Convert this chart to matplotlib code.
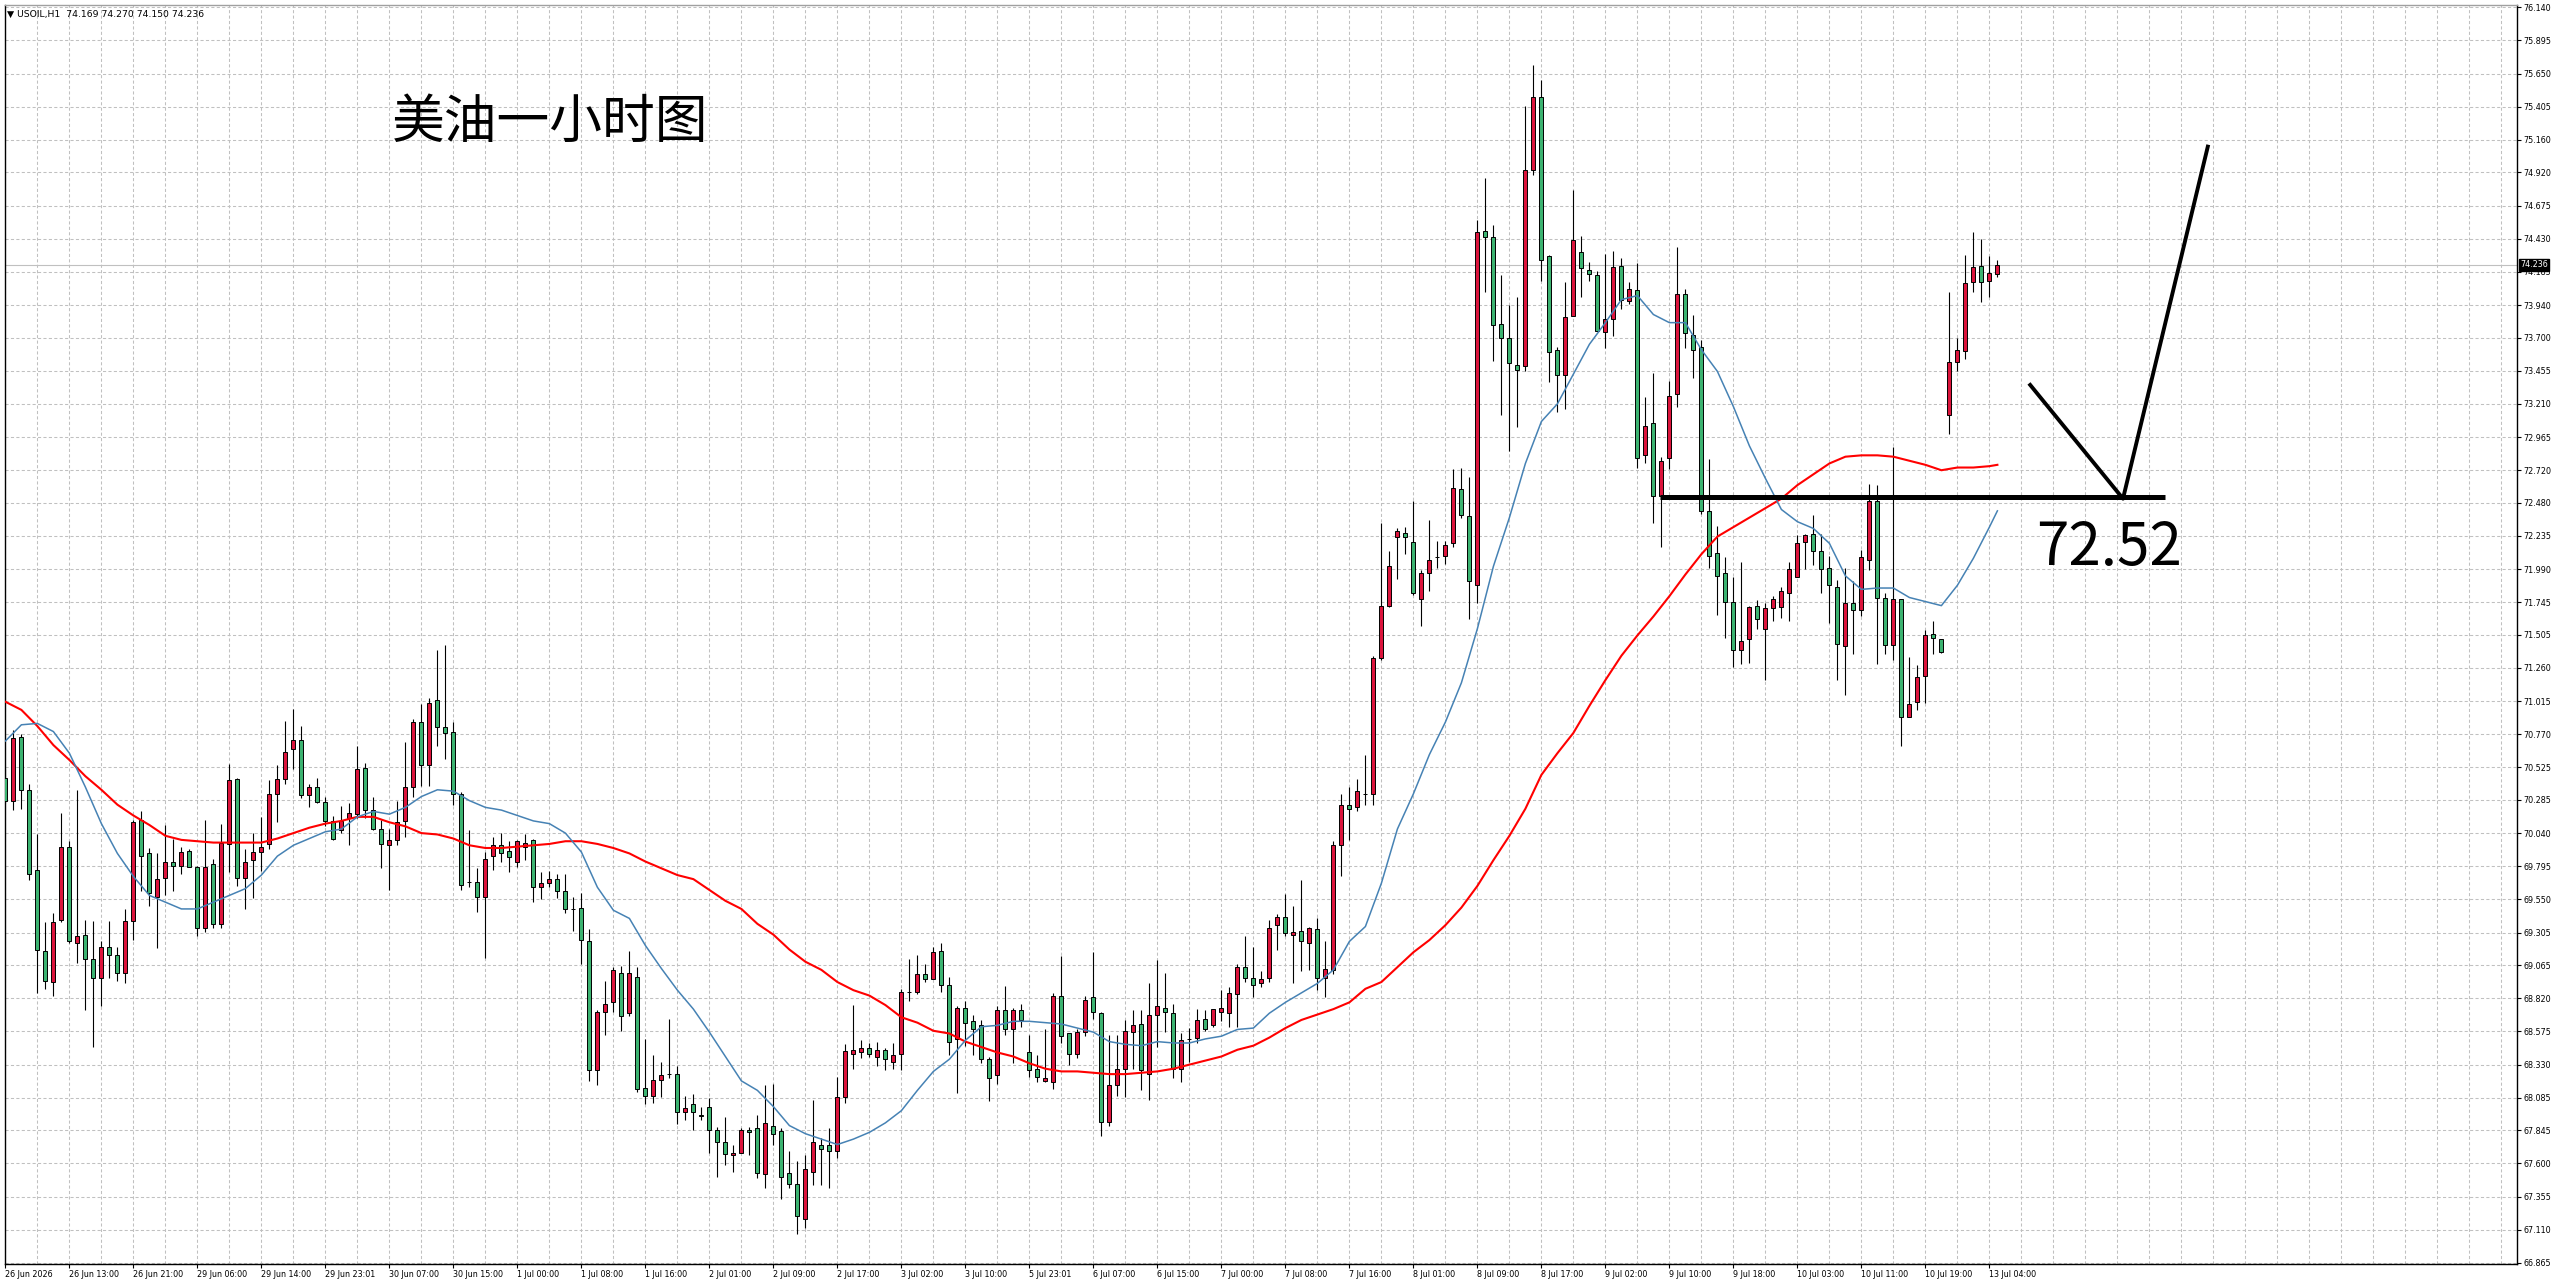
"""USOIL H1 candlestick chart with two moving averages and a hand-drawn 72.52 level."""

import numpy as np
import matplotlib
matplotlib.use("Agg")
import matplotlib.pyplot as plt
import matplotlib.transforms as mtransforms

# ── Data ─────────────────────────────────────────────────────────────────────
# 250 hourly bars (bar 0 = 26 Jun 2026)

OPEN = [
    70.45, 70.28, 70.75, 70.36, 69.77, 69.17, 68.94, 69.40, 69.94, 69.23,
    69.29, 69.11, 68.97, 69.20, 69.14, 69.01, 69.39, 70.14, 69.89, 69.57,
    69.71, 69.83, 69.80, 69.91, 69.79, 69.34, 69.81, 69.37, 69.96, 70.44,
    69.71, 69.84, 69.90, 69.96, 70.33, 70.44, 70.66, 70.73, 70.32, 70.38,
    70.27, 70.13, 70.06, 70.15, 70.18, 70.52, 70.21, 70.07, 69.95, 69.99,
    70.13, 70.38, 70.86, 70.54, 71.02, 70.82, 70.79, 70.33, 69.68, 69.68,
    69.57, 69.87, 69.95, 69.91, 69.83, 69.94, 69.99, 69.64, 69.67, 69.70,
    69.61, 69.48, 69.49, 69.24, 68.29, 68.72, 68.79, 69.01, 68.71, 68.98,
    68.16, 68.10, 68.22, 68.26, 68.26, 67.98, 68.04, 67.96, 68.02, 67.85,
    67.76, 67.66, 67.68, 67.85, 67.86, 67.52, 67.88, 67.84, 67.53, 67.45,
    67.19, 67.54, 67.74, 67.74, 67.69, 68.09, 68.41, 68.42, 68.45, 68.39,
    68.44, 68.35, 68.41, 68.87, 68.87, 69.00, 68.96, 69.17, 68.92, 68.52,
    68.75, 68.65, 68.62, 68.37, 68.25, 68.73, 68.59, 68.73, 68.42, 68.30,
    68.21, 68.20, 68.84, 68.56, 68.41, 68.57, 68.83, 68.71, 67.91, 68.18,
    68.30, 68.57, 68.63, 68.26, 68.70, 68.75, 68.71, 68.30, 68.52, 68.53,
    68.67, 68.62, 68.72, 68.71, 68.85, 69.05, 68.97, 68.93, 68.97, 69.36,
    69.42, 69.29, 69.32, 69.23, 69.33, 68.97, 69.03, 69.95, 70.25, 70.23,
    70.33, 70.33, 71.33, 71.72, 72.23, 72.26, 72.19, 71.77, 71.96, 72.08,
    72.09, 72.18, 72.58, 72.38, 71.87, 74.49, 74.44, 73.80, 73.70, 73.50,
    73.49, 74.94, 75.48, 74.30, 73.61, 73.42, 73.86, 74.33, 74.20, 74.16,
    73.74, 73.84, 74.23, 73.97, 74.05, 72.83, 73.07, 72.53, 72.81, 73.28,
    74.02, 73.72, 73.63, 72.42, 72.11, 71.96, 71.75, 71.39, 71.47, 71.72,
    71.55, 71.70, 71.71, 71.81, 71.93, 72.19, 72.25, 72.12, 72.00, 71.86,
    71.42, 71.74, 71.69, 72.06, 72.49, 71.78, 71.43, 71.77, 70.90, 71.01,
    71.20, 71.51, 71.47, 73.13, 73.52, 73.60, 74.11, 74.23, 74.12, 74.169,
]

HIGH = [
    70.51, 70.80, 70.77, 70.40, 70.03, 69.38, 69.45, 70.19, 69.98, 70.36,
    69.40, 69.39, 69.24, 69.39, 69.20, 69.48, 70.14, 70.20, 69.93, 69.89,
    70.10, 70.00, 69.94, 69.92, 69.80, 70.14, 69.85, 70.11, 70.55, 70.45,
    69.92, 70.04, 70.16, 70.43, 70.54, 70.87, 70.96, 70.83, 70.40, 70.45,
    70.31, 70.17, 70.24, 70.26, 70.68, 70.56, 70.31, 70.14, 70.07, 70.28,
    70.71, 70.88, 70.99, 71.04, 71.39, 71.43, 70.86, 70.34, 70.06, 69.78,
    69.90, 70.01, 70.04, 69.98, 69.99, 70.03, 70.00, 69.75, 69.76, 69.74,
    69.74, 69.57, 69.60, 69.33, 68.73, 68.95, 69.05, 69.06, 69.17, 69.05,
    68.52, 68.40, 68.35, 68.67, 68.32, 68.10, 68.11, 68.02, 68.08, 67.87,
    67.94, 67.74, 67.86, 67.87, 67.96, 68.18, 68.19, 67.86, 67.69, 67.62,
    67.66, 68.07, 67.79, 67.86, 68.24, 68.48, 68.77, 68.51, 68.49, 68.50,
    68.45, 68.49, 68.89, 69.11, 69.14, 69.07, 69.20, 69.23, 68.98, 68.76,
    68.80, 68.70, 68.66, 68.39, 68.76, 68.91, 68.75, 68.78, 68.55, 68.40,
    68.59, 68.86, 69.13, 68.56, 68.59, 68.84, 69.16, 68.72, 68.55, 68.55,
    68.66, 68.73, 68.73, 68.93, 69.10, 69.01, 68.78, 68.56, 68.60, 68.74,
    68.73, 68.74, 68.88, 68.90, 69.07, 69.28, 69.20, 69.02, 69.40, 69.44,
    69.59, 69.50, 69.69, 69.35, 69.41, 69.24, 69.98, 70.33, 70.38, 70.44,
    70.62, 71.35, 72.33, 72.12, 72.29, 72.30, 72.49, 71.98, 72.35, 72.20,
    72.20, 72.73, 72.74, 72.67, 74.57, 74.88, 74.53, 74.16, 73.94, 74.00,
    75.41, 75.71, 75.60, 74.31, 73.63, 74.11, 74.79, 74.45, 74.26, 74.19,
    74.32, 74.34, 74.29, 74.11, 74.25, 73.26, 73.44, 72.82, 73.38, 74.37,
    74.06, 73.87, 73.68, 72.80, 72.31, 72.08, 71.93, 72.04, 71.72, 71.76,
    71.74, 71.79, 71.86, 72.04, 72.24, 72.25, 72.39, 72.25, 72.09, 71.91,
    72.00, 71.90, 72.13, 72.62, 72.61, 71.81, 72.89, 71.77, 71.34, 71.28,
    71.54, 71.61, 71.47, 74.04, 73.70, 74.31, 74.48, 74.43, 74.30, 74.270,
]

LOW = [
    70.26, 70.21, 70.22, 69.69, 68.86, 68.89, 68.84, 69.38, 69.23, 69.08,
    68.73, 68.46, 68.76, 68.97, 68.95, 68.93, 69.25, 69.61, 69.50, 69.19,
    69.58, 69.61, 69.74, 69.79, 69.28, 69.31, 69.34, 69.34, 69.75, 69.65,
    69.48, 69.56, 69.76, 69.92, 70.12, 70.40, 70.51, 70.30, 70.23, 70.26,
    70.09, 69.99, 70.04, 69.95, 70.15, 70.15, 70.06, 69.78, 69.62, 69.95,
    70.01, 70.31, 70.39, 70.39, 70.68, 70.59, 70.25, 69.62, 69.64, 69.46,
    69.12, 69.77, 69.83, 69.75, 69.79, 69.84, 69.53, 69.55, 69.64, 69.56,
    69.45, 69.32, 69.07, 68.21, 68.18, 68.55, 68.72, 68.58, 68.69, 68.13,
    68.04, 68.05, 68.09, 68.23, 67.89, 67.92, 67.85, 67.92, 67.68, 67.50,
    67.59, 67.54, 67.68, 67.66, 67.49, 67.42, 67.74, 67.34, 67.42, 67.08,
    67.12, 67.44, 67.44, 67.42, 67.64, 68.05, 68.30, 68.38, 68.39, 68.32,
    68.29, 68.30, 68.29, 68.80, 68.85, 68.94, 68.96, 68.87, 68.40, 68.12,
    68.47, 68.40, 68.34, 68.06, 68.19, 68.55, 68.34, 68.61, 68.24, 68.20,
    68.20, 68.15, 68.49, 68.33, 68.38, 68.54, 68.67, 67.80, 67.88, 68.10,
    68.09, 68.30, 68.14, 68.07, 68.46, 68.57, 68.23, 68.20, 68.35, 68.49,
    68.58, 68.61, 68.65, 68.61, 68.61, 68.94, 68.83, 68.90, 68.94, 69.18,
    69.28, 68.93, 69.02, 69.03, 68.88, 68.83, 69.00, 69.72, 69.99, 70.20,
    70.25, 70.25, 71.32, 71.71, 71.92, 72.10, 71.80, 71.57, 71.83, 72.00,
    72.03, 72.15, 72.37, 71.62, 71.74, 74.04, 73.53, 73.13, 72.86, 73.04,
    73.45, 74.90, 74.12, 73.37, 73.15, 73.17, 73.86, 74.00, 74.12, 73.75,
    73.62, 73.71, 73.91, 73.95, 72.74, 72.77, 72.33, 72.15, 72.73, 73.19,
    73.62, 73.40, 72.40, 72.00, 71.65, 71.48, 71.27, 71.29, 71.30, 71.55,
    71.17, 71.61, 71.63, 71.61, 71.93, 71.99, 72.02, 71.81, 71.59, 71.17,
    71.06, 71.36, 71.64, 71.98, 71.29, 71.36, 71.32, 70.68, 70.90, 70.95,
    71.00, 71.36, 71.37, 72.99, 73.45, 73.54, 74.04, 73.96, 74.00, 74.150,
]

CLOSE = [
    70.28, 70.74, 70.36, 69.74, 69.18, 68.95, 69.38, 69.94, 69.24, 69.28,
    69.11, 68.97, 69.20, 69.14, 69.01, 69.39, 70.12, 69.87, 69.60, 69.70,
    69.83, 69.80, 69.90, 69.79, 69.34, 69.79, 69.37, 69.97, 70.43, 69.71,
    69.83, 69.90, 69.94, 70.33, 70.44, 70.64, 70.73, 70.32, 70.38, 70.27,
    70.13, 70.00, 70.13, 70.19, 70.51, 70.21, 70.07, 69.96, 69.99, 70.12,
    70.38, 70.86, 70.54, 71.00, 70.82, 70.78, 70.33, 69.66, 69.68, 69.57,
    69.85, 69.95, 69.89, 69.86, 69.98, 69.97, 69.64, 69.67, 69.70, 69.61,
    69.48, 69.48, 69.25, 68.29, 68.72, 68.78, 69.03, 68.69, 69.01, 68.15,
    68.10, 68.22, 68.25, 68.26, 67.98, 68.01, 67.98, 67.95, 67.85, 67.76,
    67.67, 67.68, 67.85, 67.83, 67.53, 67.90, 67.82, 67.50, 67.45, 67.21,
    67.56, 67.76, 67.71, 67.69, 68.09, 68.43, 68.44, 68.45, 68.41, 68.44,
    68.37, 68.40, 68.87, 68.87, 69.00, 68.96, 69.16, 68.92, 68.50, 68.75,
    68.64, 68.59, 68.37, 68.23, 68.73, 68.59, 68.73, 68.66, 68.29, 68.24,
    68.23, 68.84, 68.54, 68.41, 68.57, 68.81, 68.72, 67.91, 68.18, 68.30,
    68.58, 68.62, 68.29, 68.70, 68.76, 68.72, 68.30, 68.51, 68.52, 68.66,
    68.59, 68.74, 68.75, 68.86, 69.05, 68.97, 68.92, 68.96, 69.34, 69.42,
    69.30, 69.31, 69.24, 69.34, 68.97, 69.04, 69.95, 70.25, 70.22, 70.35,
    70.33, 71.33, 71.72, 72.01, 72.27, 72.23, 71.81, 71.96, 72.06, 72.08,
    72.17, 72.59, 72.39, 71.90, 74.48, 74.44, 73.79, 73.70, 73.51, 73.46,
    74.94, 75.48, 74.27, 73.59, 73.42, 73.85, 74.42, 74.21, 74.17, 73.75,
    73.84, 74.22, 73.98, 74.06, 72.81, 73.05, 72.53, 72.79, 73.27, 74.02,
    73.73, 73.61, 72.42, 72.09, 71.94, 71.75, 71.39, 71.46, 71.71, 71.62,
    71.70, 71.77, 71.83, 71.99, 72.18, 72.24, 72.12, 71.99, 71.87, 71.44,
    71.74, 71.69, 72.08, 72.49, 71.78, 71.43, 71.77, 70.90, 70.99, 71.19,
    71.50, 71.48, 71.38, 73.52, 73.61, 74.10, 74.22, 74.11, 74.18, 74.236,
]

# moving averages, sampled every second bar (plus the last bar)
MA_BARS = list(range(0, 250, 2)) + [249]

MA_FAST = [
    70.72, 70.84, 70.85, 70.79, 70.63, 70.38, 70.11, 69.89, 69.72, 69.58,
    69.53, 69.48, 69.48, 69.53, 69.58, 69.63, 69.73, 69.87, 69.95, 70.00,
    70.05, 70.07, 70.16, 70.20, 70.18, 70.23, 70.31, 70.36, 70.35, 70.28,
    70.23, 70.21, 70.17, 70.13, 70.11, 70.04, 69.90, 69.64, 69.47, 69.41,
    69.21, 69.04, 68.88, 68.74, 68.57, 68.39, 68.21, 68.14, 68.02, 67.88,
    67.82, 67.78, 67.74, 67.78, 67.83, 67.90, 67.99, 68.14, 68.28, 68.37,
    68.51, 68.61, 68.62, 68.65, 68.65, 68.64, 68.63, 68.60, 68.57, 68.50,
    68.48, 68.47, 68.50, 68.49, 68.49, 68.52, 68.54, 68.59, 68.60, 68.71,
    68.79, 68.86, 68.93, 69.03, 69.24, 69.35, 69.67, 70.07, 70.33, 70.62,
    70.86, 71.15, 71.55, 72.01, 72.37, 72.77, 73.08, 73.21, 73.43, 73.65,
    73.81, 73.98, 74.01, 73.87, 73.81, 73.81, 73.61, 73.45, 73.19, 72.90,
    72.66, 72.43, 72.34, 72.29, 72.18, 71.94, 71.84, 71.85, 71.85, 71.78,
    71.75, 71.72, 71.87, 72.07, 72.30, 72.42,
]

MA_SLOW = [
    71.01, 70.95, 70.83, 70.69, 70.58, 70.46, 70.36, 70.25, 70.17, 70.10,
    70.02, 69.99, 69.98, 69.97, 69.97, 69.97, 69.97, 70.00, 70.04, 70.08,
    70.11, 70.13, 70.16, 70.16, 70.12, 70.09, 70.04, 70.03, 70.00, 69.95,
    69.93, 69.93, 69.94, 69.95, 69.96, 69.98, 69.98, 69.96, 69.93, 69.89,
    69.83, 69.78, 69.73, 69.70, 69.62, 69.54, 69.48, 69.37, 69.29, 69.18,
    69.09, 69.03, 68.94, 68.88, 68.84, 68.77, 68.68, 68.64, 68.58, 68.56,
    68.50, 68.46, 68.42, 68.39, 68.34, 68.30, 68.28, 68.28, 68.27, 68.26,
    68.26, 68.27, 68.28, 68.30, 68.33, 68.36, 68.39, 68.44, 68.47, 68.53,
    68.60, 68.66, 68.70, 68.74, 68.79, 68.89, 68.94, 69.05, 69.16, 69.25,
    69.36, 69.49, 69.65, 69.84, 70.02, 70.22, 70.47, 70.63, 70.78, 70.98,
    71.17, 71.35, 71.50, 71.64, 71.79, 71.95, 72.10, 72.23, 72.30, 72.37,
    72.44, 72.51, 72.61, 72.69, 72.77, 72.82, 72.83, 72.83, 72.82, 72.79,
    72.76, 72.72, 72.74, 72.74, 72.75, 72.76,
]

TIME_LABELS = [
    "26 Jun 2026", "26 Jun 13:00", "26 Jun 21:00", "29 Jun 06:00",
    "29 Jun 14:00", "29 Jun 23:01", "30 Jun 07:00", "30 Jun 15:00",
    "1 Jul 00:00", "1 Jul 08:00", "1 Jul 16:00", "2 Jul 01:00",
    "2 Jul 09:00", "2 Jul 17:00", "3 Jul 02:00", "3 Jul 10:00",
    "5 Jul 23:01", "6 Jul 07:00", "6 Jul 15:00", "7 Jul 00:00",
    "7 Jul 08:00", "7 Jul 16:00", "8 Jul 01:00", "8 Jul 09:00",
    "8 Jul 17:00", "9 Jul 02:00", "9 Jul 10:00", "9 Jul 18:00",
    "10 Jul 03:00", "10 Jul 11:00", "10 Jul 19:00", "13 Jul 04:00",
]

PRICE_LABELS = [
    "76.140", "75.895", "75.650", "75.405", "75.160", "74.920", "74.675",
    "74.430", "74.185", "73.940", "73.700", "73.455", "73.210", "72.965",
    "72.720", "72.480", "72.235", "71.990", "71.745", "71.505", "71.260",
    "71.015", "70.770", "70.525", "70.285", "70.040", "69.795", "69.550",
    "69.305", "69.065", "68.820", "68.575", "68.330", "68.085", "67.845",
    "67.600", "67.355", "67.110", "66.865",
]

# hand-drawn annotations (bar index, price)
LEVEL = 72.52
LEVEL_BARS = [206.8, 269.9]
PATH_BARS = [253.1, 264.7, 275.3]
PATH_PRICES = [73.35, 72.51, 75.11]

SYMBOL = "USOIL,H1"
TITLE = "美油一小时图"

UP = "#DC143C"
DOWN = "#3CB371"
BLUE = "#4682B4"
RED = "#FF0000"
GRID = "#C0C0C0"

W, H = 2560, 1285


def main():
    plt.rcParams["font.family"] = ["DejaVu Sans"]
    fig = plt.figure(figsize=(W / 100, H / 100), dpi=100)
    left, right, top, bottom = 4.5, 2517, 5, 1264
    ax = fig.add_axes([left / W, 1 - bottom / H, (right - left) / W, (bottom - top) / H])

    x = np.arange(len(OPEN))
    o, h, l, c = map(np.array, (OPEN, HIGH, LOW, CLOSE))
    colors = np.where(c >= o, UP, DOWN)

    ax.vlines(x, l, h, color="black", lw=0.8, zorder=2.8)
    ax.bar(x, np.abs(c - o), width=0.5, bottom=np.minimum(o, c), color=colors,
           edgecolor="black", linewidth=0.7, zorder=3)

    ax.plot(MA_BARS, MA_SLOW, color=RED, lw=1.5, zorder=4)
    ax.plot(MA_BARS, MA_FAST, color=BLUE, lw=1.1, zorder=4)

    # current price line + label
    last = CLOSE[-1]
    ax.axhline(last, color=GRID, lw=0.8, zorder=1.5)
    trans = mtransforms.blended_transform_factory(ax.transAxes, ax.transData)
    ax.text(1.0014, last, f"{last:.3f}", transform=trans, ha="left", va="center",
            fontsize=5.8, color="white", clip_on=False, zorder=10,
            bbox=dict(boxstyle="square,pad=0.15", fc="black", ec="black"))

    # annotations
    ax.hlines(LEVEL, LEVEL_BARS[0], LEVEL_BARS[1], color="black", lw=3.6, zorder=6)
    ax.plot(PATH_BARS, PATH_PRICES, color="black", lw=2.8, zorder=6)
    ax.text(253.8, 72.14, f"{LEVEL:.2f}", fontsize=42, va="center", ha="left",
            family=["Noto Sans CJK SC", "DejaVu Sans"], zorder=6)

    # axes / grid
    ax.set_xlim(-(5.4 - left) / 8, (right - 5.4) / 8)
    ax.set_ylim(66.865 - 1 / 135.4, 66.865 + 1258 / 135.4)

    majors = list(range(0, 8 * len(TIME_LABELS), 8))
    ax.set_xticks(majors)
    ax.set_xticklabels(TIME_LABELS)
    ax.set_xticks([v for v in range(4, 316, 4) if v not in majors], minor=True)
    for lab in ax.get_xticklabels():
        lab.set_ha("left")

    ax.yaxis.tick_right()
    ax.set_yticks([float(s) for s in PRICE_LABELS])
    ax.set_yticklabels(PRICE_LABELS)

    ax.tick_params(axis="y", length=3, width=0.8, pad=1.4, labelsize=5.8)
    ax.tick_params(axis="x", which="major", length=3, width=0.8, pad=1.5, labelsize=5.8)
    ax.tick_params(axis="x", which="minor", length=0)

    dash = (0, (3, 2.2))
    ax.grid(True, axis="y", which="major", color=GRID, ls=dash, lw=0.75, zorder=0)
    ax.grid(True, axis="x", which="both", color=GRID, ls=dash, lw=0.75, zorder=0)
    ax.set_axisbelow(True)

    for side in ("left", "right", "bottom"):
        ax.spines[side].set_color("black")
        ax.spines[side].set_linewidth(1.0)
    ax.spines["top"].set_color("#A0A0A0")
    ax.spines["top"].set_linewidth(1.0)

    # header + title
    fig.text(7 / W, 1 - 14 / H,
             f"\u25BC {SYMBOL}  {OPEN[-1]:.3f} {HIGH[-1]:.3f} {LOW[-1]:.3f} {CLOSE[-1]:.3f}",
             fontsize=6.7, va="center", ha="left")
    fig.text(392 / W, 1 - 122 / H, TITLE, fontsize=38, va="center", ha="left",
             family=["Noto Sans CJK SC", "DejaVu Sans"])

    fig.savefig("out.png", dpi=100)
    plt.close(fig)


if __name__ == "__main__":
    main()
